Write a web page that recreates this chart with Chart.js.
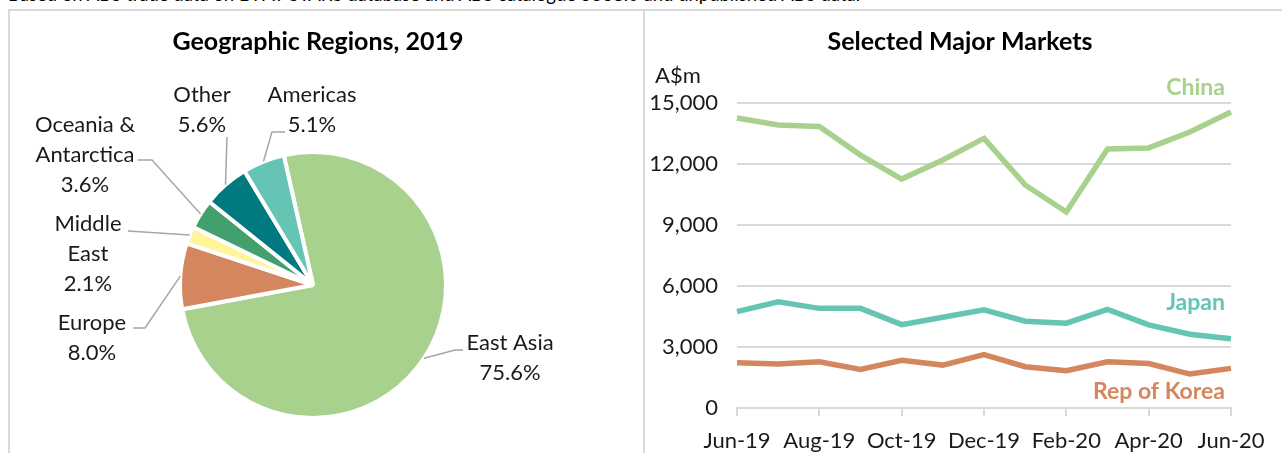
<!DOCTYPE html>
<html>
<head>
<meta charset="utf-8">
<script src="https://cdn.jsdelivr.net/npm/chart.js@4.4.0/dist/chart.umd.min.js"></script>
<style>
html, body { margin: 0; padding: 0; background: #fff; overflow: hidden; width: 1282px; height: 453px; font-family: Lato, sans-serif; }
#note { position: absolute; left: 8px; top: -16px; font-size: 18.5px; line-height: 21px; color: #000; white-space: nowrap; }
#frame { position: absolute; left: 8px; top: 9px; width: 1300px; height: 470px; border: 2px solid #d9d9d9; box-sizing: border-box; }
#divider { position: absolute; left: 643px; top: 9px; width: 2px; height: 470px; background: #d9d9d9; }
#pieBox { position: absolute; left: 10px; top: 11px; width: 633px; height: 442px; }
#lineBox { position: absolute; left: 646px; top: 11px; width: 636px; height: 442px; }
</style>
</head>
<body>
<div id="note">Based on ABS trade data on DFAT STARS database and ABS catalogue 5368.0 and unpublished ABS data.</div>
<div id="frame"></div>
<div id="divider"></div>
<div id="pieBox"><canvas id="pieChart" width="633" height="442"></canvas></div>
<div id="lineBox"><canvas id="lineChart" width="636" height="442"></canvas></div>
<script>
// pie data
var regions = ["East Asia", "Europe", "Middle East", "Oceania & Antarctica", "Other", "Americas"];
var regionShares = [75.6, 8.0, 2.1, 3.6, 5.6, 5.1];

// line data (A$m, monthly)
var months = ["Jun-19", "Jul-19", "Aug-19", "Sep-19", "Oct-19", "Nov-19", "Dec-19",
              "Jan-20", "Feb-20", "Mar-20", "Apr-20", "May-20", "Jun-20"];
var china = [14260, 13920, 13840, 12440, 11260, 12200, 13260, 10970, 9640, 12740, 12790, 13570, 14560];
var japan = [4740, 5220, 4900, 4900, 4100, 4460, 4830, 4270, 4170, 4850, 4090, 3630, 3410];
var korea = [2220, 2160, 2270, 1900, 2350, 2110, 2630, 2030, 1830, 2270, 2190, 1670, 1950];
var yMax = 15000;
var yStep = 3000;

// styles
var sliceColors = ["#A9D18E", "#D4875F", "#FFF59A", "#41A06C", "#007A80", "#66C4B4"];
var textColor = "#1a1a1a";
var leaderColor = "#a6a6a6";
var fontFamily = "Lato, sans-serif";

// label text and placement relative to pie centre (lines, first line centre, leader bends)
var pieLabels = [
    { lines: ["East Asia", "75.6%"], at: [197, 58], leader: [[142, 65], [150, 65]] },
    { lines: ["Europe", "8.0%"], at: [-221, 38], leader: [[-168, 43], [-180, 43]] },
    { lines: ["Middle", "East", "2.1%"], at: [-225, -61], leader: [[-185, -54]] },
    { lines: ["Oceania &", "Antarctica", "3.6%"], at: [-228, -160], leader: [[-161, -125], [-175, -125]] },
    { lines: ["Other", "5.6%"], at: [-111, -190], leader: [[-86, -148]] },
    { lines: ["Americas", "5.1%"], at: [-1, -190], leader: [[-41, -153], [-28, -153]] }
];

var pieLabelPlugin = {
    id: "pieLabels",
    afterDatasetsDraw: function(chart) {
        var ctx = chart.ctx;
        var arcs = chart.getDatasetMeta(0).data;
        ctx.save();
        ctx.font = "22px " + fontFamily;
        ctx.textAlign = "center";
        ctx.textBaseline = "middle";
        for (var i = 0; i < arcs.length; i++) {
            var a = arcs[i];
            var lab = pieLabels[i];
            var mid = (a.startAngle + a.endAngle) / 2;
            var ex = a.x + Math.cos(mid) * a.outerRadius;
            var ey = a.y + Math.sin(mid) * a.outerRadius;
            ctx.strokeStyle = leaderColor;
            ctx.lineWidth = 1.5;
            ctx.beginPath();
            ctx.moveTo(ex, ey);
            for (var j = 0; j < lab.leader.length; j++) {
                ctx.lineTo(a.x + lab.leader[j][0], a.y + lab.leader[j][1]);
            }
            ctx.stroke();
            ctx.fillStyle = textColor;
            for (var k = 0; k < lab.lines.length; k++) {
                ctx.fillText(lab.lines[k], a.x + lab.at[0], a.y + lab.at[1] + k * 30);
            }
        }
        ctx.restore();
    }
};

function titlePlugin(text, x, y) {
    return {
        id: "panelTitle",
        afterDraw: function(chart) {
            var ctx = chart.ctx;
            ctx.save();
            ctx.font = "bold 25px " + fontFamily;
            ctx.fillStyle = "#000";
            ctx.textAlign = "center";
            ctx.textBaseline = "middle";
            ctx.fillText(text, x, y);
            ctx.restore();
        }
    };
}

new Chart(document.getElementById("pieChart"), {
    type: "pie",
    data: {
        labels: regions,
        datasets: [{
            data: regionShares,
            backgroundColor: sliceColors,
            borderColor: "#ffffff",
            borderWidth: 4,
            hoverOffset: 0
        }]
    },
    options: {
        responsive: false,
        animation: false,
        rotation: -12.7,
        layout: { padding: { left: 168, right: 195, top: 139, bottom: 33 } },
        plugins: {
            legend: { display: false },
            tooltip: { enabled: false }
        }
    },
    plugins: [pieLabelPlugin, titlePlugin("Geographic Regions, 2019", 308, 31)]
});

// series name placement (value on y axis) and unit label
var seriesLabelY = [15750, 5200, 800];

var lineLabelPlugin = {
    id: "lineLabels",
    afterDatasetsDraw: function(chart) {
        var ctx = chart.ctx;
        var area = chart.chartArea;
        var ys = chart.scales.y;
        ctx.save();
        ctx.font = "bold 23px " + fontFamily;
        ctx.textAlign = "right";
        ctx.textBaseline = "middle";
        chart.data.datasets.forEach(function(ds, i) {
            ctx.fillStyle = ds.borderColor;
            ctx.fillText(ds.label, area.right - 6, ys.getPixelForValue(seriesLabelY[i]));
        });
        ctx.font = "22px " + fontFamily;
        ctx.fillStyle = textColor;
        ctx.textAlign = "left";
        ctx.fillText("A$m", area.left - 82, ys.getPixelForValue(yMax) - 27);
        ctx.restore();
    }
};

new Chart(document.getElementById("lineChart"), {
    type: "line",
    data: {
        labels: months,
        datasets: [
            { label: "China", data: china, borderColor: "#A9D18E", borderWidth: 5.5, pointRadius: 0, tension: 0 },
            { label: "Japan", data: japan, borderColor: "#66C4B4", borderWidth: 5.5, pointRadius: 0, tension: 0 },
            { label: "Rep of Korea", data: korea, borderColor: "#D4875F", borderWidth: 5.5, pointRadius: 0, tension: 0 }
        ]
    },
    options: {
        responsive: false,
        animation: false,
        layout: { padding: { left: 0, right: 51, top: 92, bottom: 0 } },
        scales: {
            x: {
                afterFit: function(scale) { scale.height = 45; },
                grid: {
                    drawOnChartArea: false,
                    tickLength: 8,
                    lineWidth: 2,
                    color: function(c) { return c.index % 2 === 0 ? "#d9d9d9" : "rgba(0,0,0,0)"; }
                },
                border: { color: "#d9d9d9", width: 2 },
                ticks: {
                    autoSkip: false,
                    maxRotation: 0,
                    padding: 12,
                    color: textColor,
                    font: { family: fontFamily, size: 22 },
                    callback: function(v, i) { return i % 2 === 0 ? months[i] : ""; }
                }
            },
            y: {
                min: 0,
                max: yMax,
                afterFit: function(scale) { scale.width = 91; },
                grid: { color: "#d9d9d9", lineWidth: 2, drawTicks: false },
                border: { display: false },
                ticks: {
                    stepSize: yStep,
                    padding: 19,
                    color: textColor,
                    font: { family: fontFamily, size: 22 },
                    callback: function(v) { return v.toLocaleString("en-US"); }
                }
            }
        },
        plugins: {
            legend: { display: false },
            tooltip: { enabled: false }
        }
    },
    plugins: [lineLabelPlugin, titlePlugin("Selected Major Markets", 314, 31)]
});
</script>
</body>
</html>
